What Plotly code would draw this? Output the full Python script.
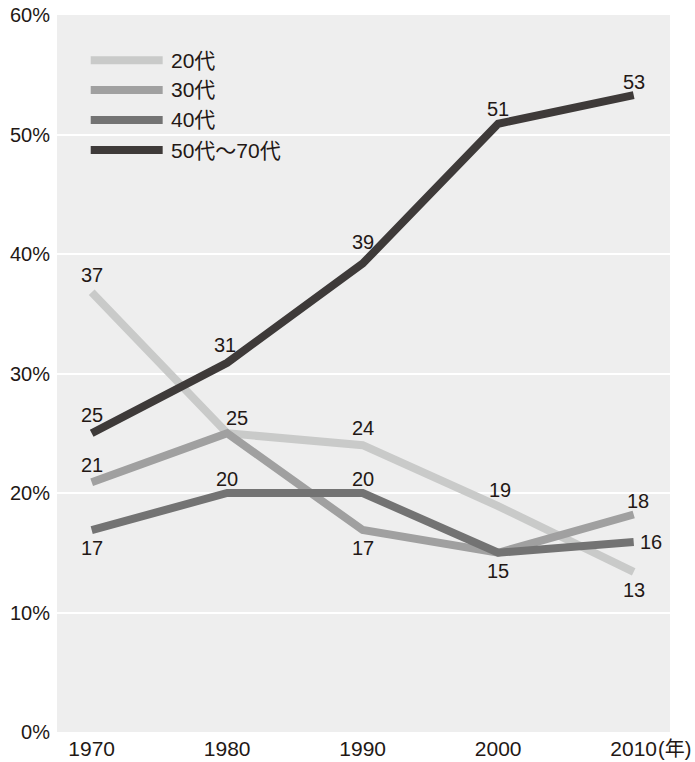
import plotly.graph_objects as go

years = [1970, 1980, 1990, 2000, 2010]
series_names = ["20代", "30代", "40代", "50代〜70代"]
v20 = [36.8, 25.0, 24.0, 18.9, 13.4]
v30 = [20.9, 25.0, 16.9, 15.0, 18.2]
v40 = [16.9, 20.0, 20.0, 15.0, 15.9]
v50 = [25.0, 30.9, 39.2, 50.9, 53.3]
labels20 = ["37", "", "24", "19", "13"]
labels30 = ["21", "25", "17", "", "18"]
labels40 = ["17", "20", "20", "15", "16"]
labels50 = ["25", "31", "39", "51", "53"]
y_ticks = [0, 10, 20, 30, 40, 50, 60]
y_ticktext = ["0%", "10%", "20%", "30%", "40%", "50%", "60%"]
x_ticktext = ["1970", "1980", "1990", "2000", "2010"]
x_unit = "(年)"

colors = ["#c9cac9", "#a0a0a0", "#737373", "#3e3a39"]
values = [v20, v30, v40, v50]
labels = [labels20, labels30, labels40, labels50]
# label placement per point: (xshift, yshift)
U, D, R = (0, 17), (0, -18), (17, 0)
placements = [
    [U, None, U, (2, 16), D],
    [U, (10, 15), D, None, (4, 14)],
    [D, (0, 14), (0, 14), D, R],
    [(0, 18), (-2, 18), (0, 22), (0, 15), (0, 13)],
]

FONT = "Liberation Sans, Arial, Noto Sans CJK JP, sans-serif"
TXT = "#231815"

fig = go.Figure()
for name, vals, col in zip(series_names, values, colors):
    fig.add_trace(go.Scatter(x=years, y=vals, mode="lines", name=name,
                             line=dict(color=col, width=8), showlegend=False,
                             hoverinfo="skip"))

annotations = []
for vals, labs, pls in zip(values, labels, placements):
    for x, y, t, p in zip(years, vals, labs, pls):
        if not t or p is None:
            continue
        annotations.append(dict(x=x, y=y, xref="x", yref="y", text=t, showarrow=False,
                                xshift=p[0], yshift=p[1],
                                font=dict(size=20, color=TXT, family=FONT)))

# manual legend (long line symbols)
x0, x1, xt = 0.055, 0.1724, 0.1835
rows = [0.937, 0.8954, 0.8536, 0.8117]
shapes = []
for name, col, yy in zip(series_names, colors, rows):
    shapes.append(dict(type="line", xref="paper", yref="paper", x0=x0, x1=x1, y0=yy, y1=yy,
                       line=dict(color=col, width=8)))
    annotations.append(dict(x=xt, y=yy, xref="paper", yref="paper", text=name, showarrow=False,
                            xanchor="left", yanchor="middle",
                            font=dict(size=21, color=TXT, family=FONT)))

annotations.append(dict(x=2010, y=0, xref="x", yref="paper", text=x_unit, showarrow=False,
                        xanchor="left", yanchor="top", xshift=22, yshift=-4,
                        font=dict(size=20, color=TXT, family=FONT)))

fig.update_layout(
    width=695, height=762,
    margin=dict(l=57, r=25, t=15, b=30, autoexpand=False),
    paper_bgcolor="white", plot_bgcolor="#eeeeee",
    showlegend=False,
    annotations=annotations, shapes=shapes,
    font=dict(family=FONT, color=TXT, size=20),
)
fig.update_xaxes(range=[1967.44, 2012.68], tickvals=years, ticktext=x_ticktext,
                 showgrid=False, zeroline=False, showline=False, ticks="",
                 automargin=False, ticklabelstandoff=2,
                 tickfont=dict(size=21, color=TXT, family=FONT))
fig.update_yaxes(range=[0, 60], tickvals=y_ticks, ticktext=y_ticktext,
                 showgrid=True, gridcolor="white", gridwidth=2, zeroline=False,
                 showline=False, ticks="", ticklabelstandoff=6, automargin=False,
                 tickfont=dict(size=20, color=TXT, family=FONT))

fig.write_html("out.html")
